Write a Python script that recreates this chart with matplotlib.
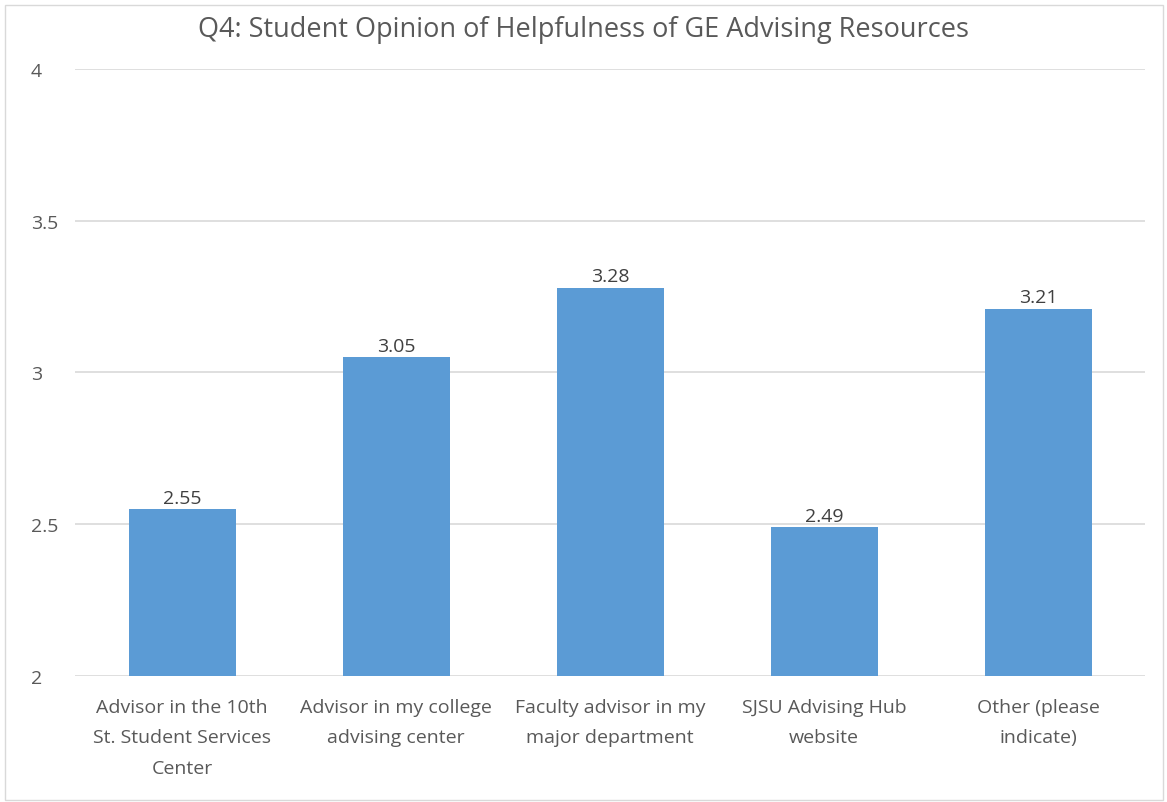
import matplotlib.pyplot as plt
from matplotlib.patches import Rectangle

plt.rcParams['font.family'] = ['Open Sans', 'DejaVu Sans']

recursos = ["Advisor in the 10th\nSt. Student Services\nCenter",
            "Advisor in my college\nadvising center",
            "Faculty advisor in my\nmajor department",
            "SJSU Advising Hub\nwebsite",
            "Other (please\nindicate)"]
medias = [2.55, 3.05, 3.28, 2.49, 3.21]
marcas_y = [2, 2.5, 3, 3.5, 4]
rotulos_y = ["2", "2.5", "3", "3.5", "4"]

cor_barra = '#5B9BD5'
cor_texto = '#595959'

fig = plt.figure(figsize=(11.67, 8.03), dpi=100)
ax = fig.add_axes([0.0643, 0.157, 0.9169, 0.7558])

pos = range(len(recursos))
barras = ax.bar(pos, medias, width=0.5, color=cor_barra, zorder=3)
ax.set_ylim(2, 4)
ax.set_xlim(-0.5, len(recursos) - 0.5)

for b, v in zip(barras, medias):
    ax.text(b.get_x() + b.get_width() / 2, v + 0.008, f"{v:.2f}",
            ha='center', va='bottom', fontsize=14, color='#404040')

ax.set_yticks(marcas_y)
ax.set_yticklabels(rotulos_y, fontsize=14, color=cor_texto, ha='left')
ax.set_xticks(list(pos))
ax.set_xticklabels(recursos, fontsize=14, color=cor_texto, linespacing=1.88)
ax.tick_params(axis='both', length=0)
ax.tick_params(axis='y', pad=32)
ax.tick_params(axis='x', pad=16)
ax.grid(axis='y', color='#D9D9D9', linewidth=1.2, zorder=0)
for s in ax.spines.values():
    s.set_visible(False)

fig.text(0.5, 0.963, "Q4: Student Opinion of Helpfulness of GE Advising Resources",
         ha='center', va='center', fontsize=19.5, color=cor_texto)

# borda clara em volta da figura
fig.patches.append(Rectangle((0.004, 0.003), 0.993, 0.99, transform=fig.transFigure,
                             fill=False, edgecolor='#D9D9D9', linewidth=1))

fig.savefig('out.png', dpi=100)
